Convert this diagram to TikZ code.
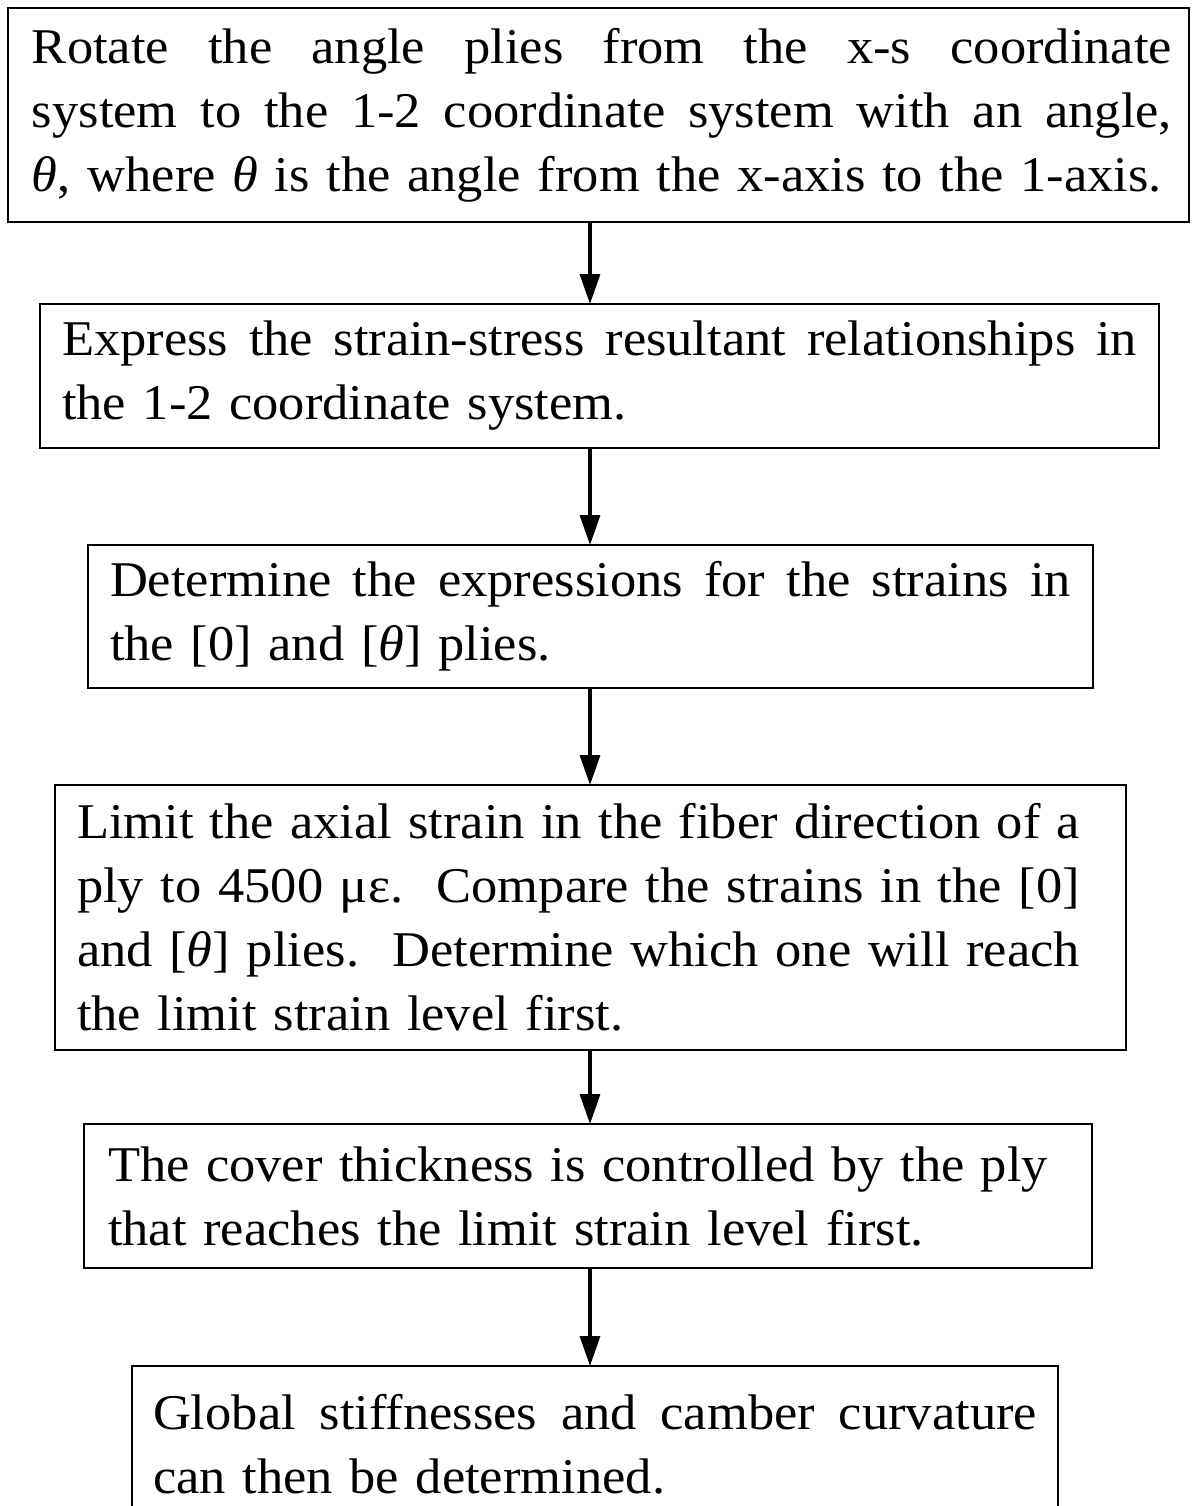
\documentclass[tikz,border=0pt]{standalone}
\usepackage{fontspec}
\setmainfont{Liberation Serif}[FakeStretch=1.05]
\usetikzlibrary{arrows.meta}
\newcommand{\thz}{{\itshape θ}}
\newcommand{\jl}[2][\linewidth]{\makebox[#1][s]{\spaceskip=0.26em plus 1em minus 0.05em\relax #2}}
\newcommand{\nl}[1]{\mbox{#1}}
\begin{document}
\begin{tikzpicture}[x=0.5pt,y=-0.5pt,
  box/.style={draw, line width=1.3pt, anchor=north west, outer sep=0pt,
    inner ysep=0pt, inner xsep=11pt, align=left,
    font=\fontsize{25}{32}\selectfont},
  arr/.style={line width=1.7pt, -{Triangle[length=15pt,width=10pt]}}]
\clip (0,0) rectangle (1192,1506);
\coordinate (ax) at (590,0);
\node[box, inner xsep=12pt, text width=566.5pt, minimum height=107pt] (b1) at (8,8)
  {\jl[570pt]{Rotate the angle plies from the x-s coordinate}\\
   \jl[570pt]{system to the 1-2 coordinate system with an angle,}\\
   \nl{\thz, where \thz\ is the angle from the x-axis to the 1-axis.}};
\node[box, text width=537.5pt, minimum height=72pt] (b2) at (40,304)
  {\jl{Express the strain-stress resultant relationships in}\\
   \nl{the 1-2 coordinate system.}};
\node[box, text width=480.5pt, minimum height=71.5pt] (b3) at (88,545)
  {\jl{Determine the expressions for the strains in}\\
   \nl{the [0] and [\thz] plies.}};
\node[box, text width=513.5pt, minimum height=132.5pt] (b4) at (55,785)
  {\jl[501.5pt]{Limit the axial strain in the fiber direction of a}\\
   \jl[501.5pt]{ply to 4500 με.\ \ Compare the strains in the [0]}\\
   \jl[501.5pt]{and [\thz] plies.\ \ Determine which one will reach}\\
   \nl{the limit strain level first.}};
\node[box, inner xsep=12pt, text width=480pt, minimum height=72pt] (b5) at (84,1124)
  {\jl[470pt]{The cover thickness is controlled by the ply}\\
   \nl{that reaches the limit strain level first.}};
\node[box, inner xsep=10.5pt, text width=442pt, minimum height=78pt] (b6) at (132,1366)
  {\jl{Global stiffnesses and camber curvature}\\
   \nl{can then be determined.}};
\draw[arr] (b1.south -| ax) -- (b2.north -| ax);
\draw[arr] (b2.south -| ax) -- (b3.north -| ax);
\draw[arr] (b3.south -| ax) -- (b4.north -| ax);
\draw[arr] (b4.south -| ax) -- (b5.north -| ax);
\draw[arr] (b5.south -| ax) -- (b6.north -| ax);
\end{tikzpicture}
\end{document}
